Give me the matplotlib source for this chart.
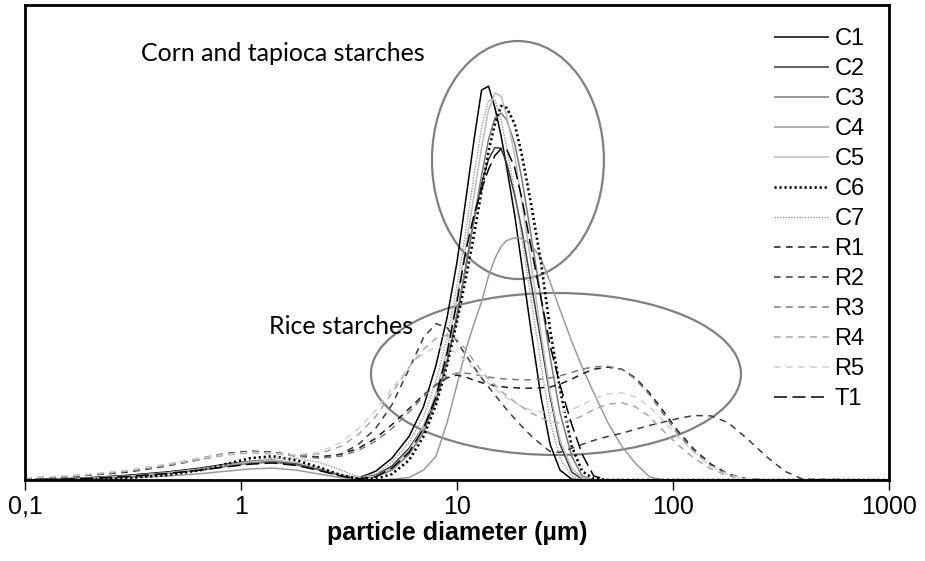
import matplotlib
matplotlib.use("Agg")
import matplotlib.pyplot as plt
from matplotlib.patches import Ellipse
from matplotlib.ticker import FixedLocator, NullLocator

# particle size classes (um) and volume distributions
size_um = [0.1, 0.15, 0.2, 0.3, 0.45, 0.65, 0.85, 1.1, 1.4, 1.8, 2.3, 2.9, 3.5,
           4.2, 5, 6, 7, 8, 9, 10, 11, 12, 13, 14, 15, 16, 17, 18.5, 20, 22,
           24.5, 27, 30, 34, 38, 43, 50, 58, 67, 78, 90, 105, 125, 150, 180,
           220, 270, 330, 400, 1000]

c1 = [0.0, 0.03, 0.06, 0.12, 0.2, 0.3, 0.4, 0.47, 0.5, 0.42, 0.27, 0.12, 0.05,
      0.22, 0.55, 1.1, 1.85, 2.9, 4.1, 5.5, 7.1, 8.6, 9.85, 9.95, 9.4, 8.7, 7.9,
      6.7, 5.4, 3.8, 2.1, 0.9, 0.25, 0.02,
      0, 0, 0, 0, 0, 0, 0, 0, 0, 0, 0, 0, 0, 0, 0, 0]
c2 = [0.0, 0.02, 0.05, 0.1, 0.18, 0.28, 0.38, 0.45, 0.48, 0.4, 0.26, 0.12, 0.04,
      0.12, 0.35, 0.8, 1.35, 2.0, 3.0, 4.1, 5.4, 6.6, 7.5, 8.1, 8.4, 8.38, 8.0,
      7.2, 6.3, 5.0, 3.5, 2.1, 0.9, 0.2, 0.02,
      0, 0, 0, 0, 0, 0, 0, 0, 0, 0, 0, 0, 0, 0, 0]
c3 = [0.0, 0.02, 0.04, 0.09, 0.16, 0.25, 0.34, 0.42, 0.45, 0.38, 0.25, 0.11, 0.04,
      0.08, 0.25, 0.65, 1.2, 2.0, 3.0, 4.2, 5.4, 6.6, 7.7, 8.6, 9.15, 9.27, 9.1,
      8.5, 7.6, 6.2, 4.6, 3.1, 1.7, 0.6, 0.1, 0.0,
      0, 0, 0, 0, 0, 0, 0, 0, 0, 0, 0, 0, 0, 0]
c4 = [0.0, 0.01, 0.03, 0.06, 0.1, 0.16, 0.22, 0.28, 0.3, 0.25, 0.15, 0.06, 0.02,
      0.01, 0.02, 0.06, 0.25, 0.6, 1.45, 2.4, 3.3, 3.95, 4.5, 5.15, 5.6, 5.9,
      6.05, 6.12, 6.1, 5.95, 5.6, 5.0, 4.3, 3.5, 2.85, 2.2, 1.45, 0.85, 0.42,
      0.08, 0.0,
      0, 0, 0, 0, 0, 0, 0, 0, 0]
c5 = [0.0, 0.02, 0.05, 0.1, 0.18, 0.28, 0.38, 0.46, 0.5, 0.44, 0.3, 0.14, 0.05,
      0.1, 0.3, 0.75, 1.35, 2.2, 3.3, 4.6, 5.9, 7.2, 8.4, 9.35, 9.78, 9.7, 9.2,
      8.2, 7.0, 5.5, 3.7, 2.2, 1.0, 0.3, 0.05, 0.0,
      0, 0, 0, 0, 0, 0, 0, 0, 0, 0, 0, 0, 0, 0]
c6 = [0.0, 0.01, 0.02, 0.05, 0.12, 0.25, 0.4, 0.55, 0.6, 0.5, 0.32, 0.12, 0.03,
      0.03, 0.15, 0.5, 1.1, 1.9, 2.9, 4.0, 5.1, 6.2, 7.3, 8.3, 9.0, 9.45, 9.4,
      9.0, 8.2, 7.0, 5.5, 3.8, 2.3, 0.85, 0.22, 0.03, 0.0,
      0, 0, 0, 0, 0, 0, 0, 0, 0, 0, 0, 0, 0]
c7 = [0.0, 0.02, 0.05, 0.1, 0.18, 0.28, 0.38, 0.47, 0.55, 0.55, 0.45, 0.25, 0.08,
      0.15, 0.45, 0.95, 1.6, 2.5, 3.6, 4.9, 6.3, 7.7, 8.9, 9.6, 9.6, 9.1, 8.4,
      7.3, 6.1, 4.6, 2.9, 1.5, 0.55, 0.1, 0.0,
      0, 0, 0, 0, 0, 0, 0, 0, 0, 0, 0, 0, 0, 0, 0]
r1 = [0.04, 0.08, 0.12, 0.2, 0.35, 0.52, 0.65, 0.72, 0.7, 0.62, 0.58, 0.65, 0.8,
      1.05, 1.4, 1.8, 2.15, 2.4, 2.58, 2.65, 2.6, 2.52, 2.46, 2.42, 2.38, 2.36,
      2.34, 2.33, 2.32, 2.32, 2.33, 2.35, 2.42, 2.55, 2.68, 2.8, 2.85, 2.8, 2.58,
      2.2, 1.75, 1.25, 0.78, 0.4, 0.15, 0.03, 0, 0, 0, 0]
r2 = [0.04, 0.08, 0.13, 0.22, 0.38, 0.55, 0.67, 0.73, 0.7, 0.62, 0.58, 0.65, 0.9,
      1.3, 1.9, 2.8, 3.6, 3.95, 3.85, 3.5, 3.15, 2.85, 2.58, 2.35, 2.15, 1.95,
      1.78, 1.55, 1.35, 1.12, 0.9, 0.72, 0.7, 0.8, 0.9, 1.0, 1.1, 1.18, 1.28,
      1.38, 1.46, 1.55, 1.63, 1.62, 1.45, 1.05, 0.6, 0.22, 0.02, 0]
r3 = [0.05, 0.09, 0.13, 0.22, 0.37, 0.53, 0.65, 0.71, 0.69, 0.6, 0.55, 0.6, 0.75,
      0.98, 1.3, 1.72, 2.1, 2.42, 2.62, 2.7, 2.7, 2.67, 2.63, 2.6, 2.58, 2.56,
      2.55, 2.54, 2.53, 2.53, 2.55, 2.58, 2.63, 2.72, 2.8, 2.86, 2.87, 2.8, 2.55,
      2.15, 1.68, 1.18, 0.72, 0.36, 0.13, 0.03, 0, 0, 0, 0]
r4 = [0.05, 0.09, 0.14, 0.23, 0.37, 0.52, 0.63, 0.68, 0.66, 0.62, 0.66, 0.85, 1.15,
      1.6, 2.2, 2.85, 3.3, 3.58, 3.66, 3.55, 3.3, 3.0, 2.75, 2.55, 2.4, 2.25,
      2.12, 1.98, 1.85, 1.7, 1.57, 1.48, 1.44, 1.5, 1.62, 1.78, 1.92, 1.95, 1.85,
      1.6, 1.25, 0.9, 0.55, 0.28, 0.1, 0.02, 0, 0, 0, 0]
r5 = [0.05, 0.1, 0.15, 0.25, 0.4, 0.55, 0.65, 0.7, 0.68, 0.64, 0.7, 0.95, 1.3,
      1.75, 2.3, 2.85, 3.2, 3.35, 3.35, 3.2, 3.0, 2.8, 2.62, 2.45, 2.3, 2.18,
      2.07, 1.95, 1.85, 1.77, 1.72, 1.7, 1.7, 1.78, 1.9, 2.05, 2.18, 2.2, 2.1,
      1.85, 1.5, 1.1, 0.7, 0.35, 0.13, 0.03, 0, 0, 0, 0]
t1 = [0.0, 0.02, 0.04, 0.09, 0.16, 0.25, 0.33, 0.4, 0.43, 0.37, 0.24, 0.1, 0.03,
      0.08, 0.3, 0.7, 1.3, 2.1, 3.2, 4.5, 5.8, 6.7, 7.35, 7.85, 8.2, 8.37, 8.35,
      7.9, 7.1, 5.9, 4.6, 3.4, 2.4, 1.4, 0.65, 0.1, 0.0,
      0, 0, 0, 0, 0, 0, 0, 0, 0, 0, 0, 0, 0]

labels = ["C1", "C2", "C3", "C4", "C5", "C6", "C7",
          "R1", "R2", "R3", "R4", "R5", "T1"]
series = [c1, c2, c3, c4, c5, c6, c7, r1, r2, r3, r4, r5, t1]

tick_values = [0.1, 1, 10, 100, 1000]
tick_labels = ["0,1", "1", "10", "100", "1000"]

# line looks, one per series
solid = (0, ())
short_dash = (0, (4.3, 3.6))
styles = [
    dict(color="#000000", linestyle=solid, lw=1.1),
    dict(color="#3a3a3a", linestyle=solid, lw=1.1),
    dict(color="#7a7a7a", linestyle=solid, lw=1.1),
    dict(color="#9a9a9a", linestyle=solid, lw=1.1),
    dict(color="#bdbdbd", linestyle=solid, lw=1.1),
    dict(color="#000000", linestyle=(0, (0.8, 1.1)), lw=1.9),
    dict(color="#9a9a9a", linestyle=(0, (1, 1)), lw=1.0),
    dict(color="#1a1a1a", linestyle=short_dash, lw=1.1),
    dict(color="#3c3c3c", linestyle=short_dash, lw=1.1),
    dict(color="#7c7c7c", linestyle=short_dash, lw=1.1),
    dict(color="#a6a6a6", linestyle=short_dash, lw=1.1),
    dict(color="#d0d0d0", linestyle=short_dash, lw=1.1),
    dict(color="#000000", linestyle=(0, (8.5, 3.6)), lw=1.1),
]

plt.rcParams["font.family"] = ["Liberation Sans", "DejaVu Sans"]

fig = plt.figure(figsize=(9.25, 5.61), dpi=100)
ax = fig.add_axes([0.027, 0.1444, 0.934, 0.8466])

for vals, lab, st in zip(series, labels, styles):
    ax.plot(size_um, vals, label=lab, **st)

ax.set_xscale("log")
ax.set_xlim(0.1, 1000)
ax.set_ylim(0, 12)
ax.xaxis.set_major_locator(FixedLocator(tick_values))
ax.xaxis.set_minor_locator(NullLocator())
ax.set_xticklabels(tick_labels, fontsize=18)
ax.set_yticks([])
ax.tick_params(axis="x", direction="out", length=7, width=1, pad=3.5)
for side in ax.spines.values():
    side.set_linewidth(2)
ax.set_xlabel("particle diameter (\u00b5m)", fontsize=18, fontweight="bold",
              labelpad=1.5)

# circled groups
ax.add_patch(Ellipse((0.5706, 0.6737), 0.199, 0.501, transform=ax.transAxes,
                     fill=False, edgecolor="#808080", lw=1.6))
ax.add_patch(Ellipse((0.6146, 0.2232), 0.4282, 0.341, transform=ax.transAxes,
                     fill=False, edgecolor="#808080", lw=1.6))
ax.text(0.134, 0.897, "Corn and tapioca starches", transform=ax.transAxes,
        ha="left", va="center", fontsize=18, family=["Lato", "DejaVu Sans"])
ax.text(0.449, 0.323, "Rice starches", transform=ax.transAxes,
        ha="right", va="center", fontsize=18, family=["Lato", "DejaVu Sans"])

ax.legend(loc="upper right", bbox_to_anchor=(0.972, 0.952), frameon=False,
          fontsize=17, handlelength=2.3, handletextpad=0.25, labelspacing=0.34,
          borderaxespad=0, borderpad=0)

fig.savefig("out.png", dpi=100)
